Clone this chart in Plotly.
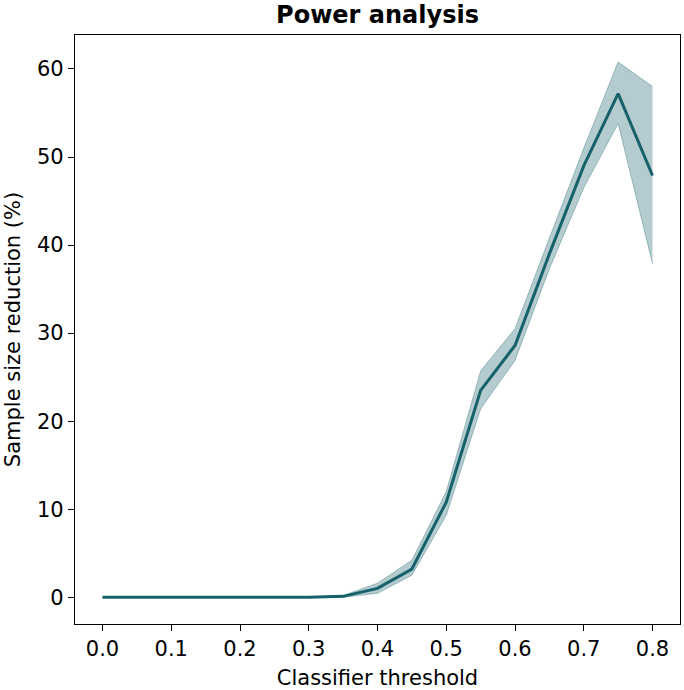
import plotly.graph_objects as go

thresholds = [0.0, 0.05, 0.1, 0.15, 0.2, 0.25, 0.3, 0.35, 0.4, 0.45, 0.5, 0.55, 0.6, 0.65, 0.7, 0.75, 0.8]
mean_reduction = [0, 0, 0, 0, 0, 0, 0, 0.1, 1.0, 3.2, 10.8, 23.5, 28.6, 39.0, 49.0, 57.2, 47.9]
upper_ci = [0, 0, 0, 0, 0, 0, 0, 0.2, 1.6, 4.2, 12.0, 25.7, 30.5, 40.8, 51.0, 60.8, 58.0]
lower_ci = [0, 0, 0, 0, 0, 0, 0, 0.0, 0.45, 2.5, 9.3, 21.4, 26.9, 37.3, 46.5, 53.8, 37.9]
x_ticks = [0.0, 0.1, 0.2, 0.3, 0.4, 0.5, 0.6, 0.7, 0.8]
y_ticks = [0, 10, 20, 30, 40, 50, 60]

line_color = "#17616a"
band_color = "rgba(23,97,106,0.32)"

fig = go.Figure()
fig.add_trace(go.Scatter(x=thresholds, y=upper_ci, mode="lines",
                         line=dict(color="rgba(23,97,106,0.35)", width=1),
                         showlegend=False, hoverinfo="skip"))
fig.add_trace(go.Scatter(x=thresholds, y=lower_ci, mode="lines", fill="tonexty",
                         fillcolor=band_color,
                         line=dict(color="rgba(23,97,106,0.35)", width=1),
                         showlegend=False, hoverinfo="skip"))
fig.add_trace(go.Scatter(x=thresholds, y=mean_reduction, mode="lines",
                         line=dict(color=line_color, width=3),
                         showlegend=False))

font_family = "DejaVu Sans"
fig.update_layout(
    width=684, height=690,
    margin=dict(l=75, r=4, t=35, b=66, autoexpand=False),
    paper_bgcolor="white", plot_bgcolor="white",
    font=dict(family=font_family, size=21, color="black"),
    title=dict(text="<b>Power analysis</b>", xref="paper", x=0.5, xanchor="center",
               yref="container", y=0.979, yanchor="middle",
               font=dict(size=24, family=font_family)),
)
fig.update_xaxes(range=[-0.04, 0.84], tickvals=x_ticks,
                 ticktext=[f"{v:.1f}" for v in x_ticks],
                 showgrid=False, zeroline=False,
                 showline=True, linecolor="black", linewidth=1.3, mirror=True,
                 ticks="outside", ticklen=6, tickwidth=1.3, tickcolor="black",
                 tickfont=dict(size=21),
                 title=dict(text="Classifier threshold", standoff=9, font=dict(size=21)))
fig.update_yaxes(range=[-3.04, 63.86], tickvals=y_ticks,
                 showgrid=False, zeroline=False,
                 showline=True, linecolor="black", linewidth=1.3, mirror=True,
                 ticks="outside", ticklen=6, tickwidth=1.3, tickcolor="black",
                 tickfont=dict(size=21),
                 title=dict(text="Sample size reduction (%)", standoff=10, font=dict(size=21)))

fig.write_html("out.html", config={"displayModeBar": False},
               post_script="document.body.style.margin='0';document.body.style.overflow='hidden';")
